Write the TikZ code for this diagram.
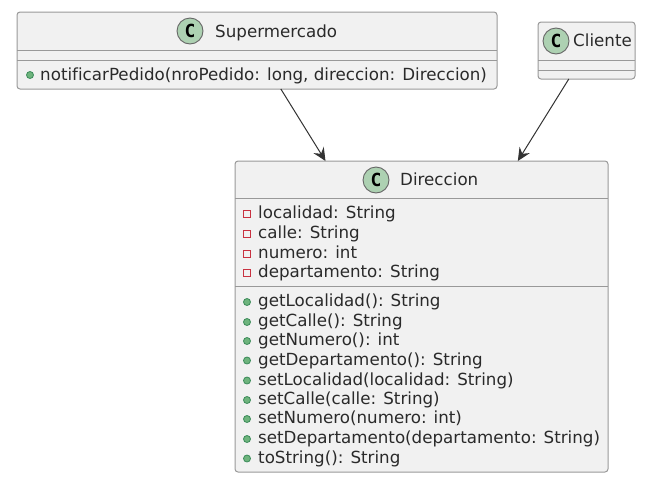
\documentclass[tikz,border=0pt]{standalone}
\usepackage{fontspec}
\setmainfont[Ligatures=NoCommon]{DejaVu Sans}
\newfontfamily\spotfont{DejaVu Sans Mono}
\usetikzlibrary{arrows.meta}
\definecolor{boxfill}{HTML}{F1F1F1}
\definecolor{boxline}{HTML}{999999}
\definecolor{spotfill}{HTML}{ADD1B2}
\definecolor{inktext}{HTML}{2A2A2A}
\tikzset{
	classbox/.style={draw=boxline,fill=boxfill,line width=1pt,rounded corners=3,inner sep=0pt,outer sep=0pt,anchor=north west},
	spot/.style={circle,draw=black!60,fill=spotfill,line width=0.9pt,minimum size=26,inner sep=0pt,text=black,font=\spotfont\bfseries\fontsize{18}{18}\selectfont},
	title/.style={anchor=base west,inner sep=0pt,text=inktext,font=\fontsize{16.7}{20}\selectfont},
	member/.style={anchor=base west,inner sep=0pt,text=inktext,font=\fontsize{16.7}{20}\selectfont},
	privmark/.style={rectangle,draw={rgb,255:red,200;green,50;blue,65},line width=0.9pt,minimum size=7,inner sep=0pt},
	pubmark/.style={circle,draw={rgb,255:red,60;green,140;blue,90},fill={rgb,255:red,110;green,180;blue,125},line width=0.8pt,minimum size=7,inner sep=0pt},
	divider/.style={draw=boxline,line width=1pt},
	link/.style={draw=black!80,line width=1pt,-{Stealth[length=13,width=12,inset=4.5]}}
}
\begin{document}
\begin{tikzpicture}[x=1pt,y=-1pt]
	\useasboundingbox (0,0) rectangle (663,485);
	% boxes
	\node [classbox,minimum width=480,minimum height=77] (supermercado) at (17,12) {};
	\node [classbox,minimum width=97,minimum height=57] (cliente) at (538,22) {};
	\node [classbox,minimum width=373,minimum height=311] (direccion) at (235,161) {};
	\draw [divider] (17,50) -- (497,50);
	\draw [divider] (17,60) -- (497,60);
	\draw [divider] (538,60) -- (635,60);
	\draw [divider] (538,70) -- (635,70);
	\draw [divider] (235,198) -- (608,198);
	\draw [divider] (235,286) -- (608,286);
	% titles
	\node [spot] (spotS) at (190,31) {C};
	\node [title] (titleS) at (215,37) {Supermercado};
	\node [spot] (spotC) at (556,41) {C};
	\node [title] (titleC) at (573,46) {Cliente};
	\node [spot] (spotD) at (376,180) {C};
	\node [title] (titleD) at (400,185) {Direccion};
	% members
	\node [pubmark] (markS) at (30,75) {};
	\node [member] (opS) at (40,80) {notificarPedido(nroPedido: long, direccion: Direccion)};
	\foreach \n/\y/\t in {a/218.5/localidad: String,b/238.5/calle: String,c/258/numero: int,d/277.5/departamento: String}{
		\node [privmark] (mark\n) at (247,\y-4.5) {};
		\node [member] (attr\n) at (258,\y) {\t};
	}
	\foreach \n/\y/\t in {a/306.5/getLocalidad(): String,b/326.5/getCalle(): String,c/345.5/getNumero(): int,d/365/getDepartamento(): String,e/385/setLocalidad(localidad: String),f/404.5/setCalle(calle: String),g/423.5/setNumero(numero: int),h/443.5/setDepartamento(departamento: String),i/463/toString(): String}{
		\node [pubmark] (pub\n) at (247,\y-4.5) {};
		\node [member] (op\n) at (258,\y) {\t};
	}
	% arrows
	\draw [link] (supermercado) -- (direccion);
	\draw [link] (cliente) -- (direccion);
\end{tikzpicture}
\end{document}
